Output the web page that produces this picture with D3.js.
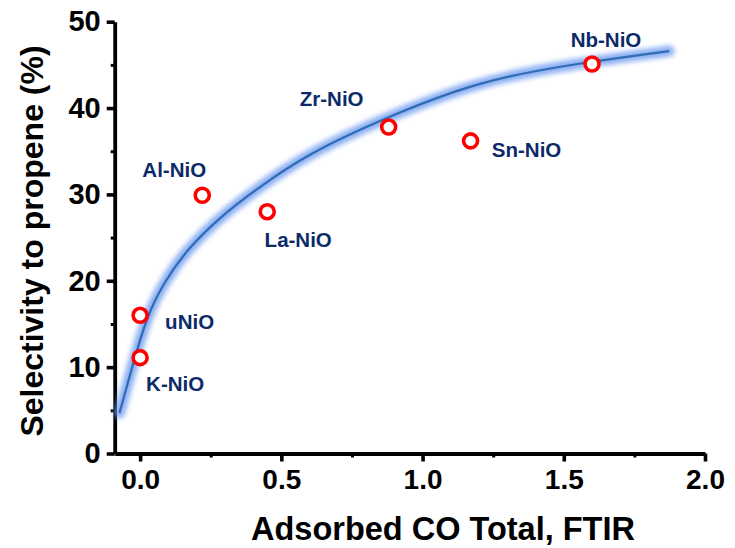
<!DOCTYPE html>
<html>
<head>
<meta charset="utf-8">
<script src="https://cdn.jsdelivr.net/npm/d3@7"></script>
<style>
  body { margin: 0; background: #fff; }
  svg { display: block; font-family: Arial, "Liberation Sans", Helvetica, sans-serif; }
</style>
</head>
<body>
<svg id="chart" width="735" height="548"></svg>
<script>
    'use strict';

    // measured samples
    var samples = ['K-NiO', 'uNiO', 'Al-NiO', 'La-NiO', 'Zr-NiO', 'Sn-NiO', 'Nb-NiO'];
    var coTotal = [0.0, 0.0, 0.22, 0.45, 0.88, 1.17, 1.60];
    var selectivity = [11.1, 16.0, 29.9, 28.0, 37.8, 36.2, 45.1];

    // fitted trend line
    var fitX = [-0.073, -0.024, 0.024, 0.082, 0.165, 0.283, 0.424, 0.589, 0.848, 1.20, 1.555, 1.873];
    var fitY = [4.7, 10.5, 15.9, 19.7, 23.6, 27.4, 30.9, 34.6, 38.6, 43.2, 45.2, 46.6];

    var xTicks = [0, 0.5, 1.0, 1.5, 2.0];
    var xMinor = [0.25, 0.75, 1.25, 1.75];
    var yTicks = [0, 10, 20, 30, 40, 50];
    var yMinor = [5, 15, 25, 35, 45];

    // label offsets (dx, dy from point, anchor)
    var labelPos = {
        'K-NiO': [6, 33, 'start'],
        'uNiO': [25, 14, 'start'],
        'Al-NiO': [-28, -18, 'middle'],
        'La-NiO': [31, 35, 'middle'],
        'Zr-NiO': [-57, -21, 'middle'],
        'Sn-NiO': [56, 16, 'middle'],
        'Nb-NiO': [14, -17, 'middle']
    };

    var svg = d3.select('#chart');
    var x = d3.scaleLinear().domain([-0.09, 2.0]).range([114.7, 705]);
    var y = d3.scaleLinear().domain([0, 50]).range([453.5, 21.7]);

    var defs = svg.append('defs');
    defs.append('filter')
        .attr('id', 'glow')
        .attr('x', '-10%').attr('y', '-10%')
        .attr('width', '120%').attr('height', '120%')
        .append('feGaussianBlur')
        .attr('stdDeviation', 2.8);

    // axes
    function styleAxis(g, size) {
        g.selectAll('.domain').attr('stroke', '#000').attr('stroke-width', 3.8);
        g.selectAll('.tick line').attr('stroke', '#000').attr('stroke-width', 3.6);
        g.selectAll('.tick text')
            .attr('fill', '#000')
            .style('font-size', size + 'px')
            .style('font-weight', 'bold');
    }

    var xAxis = svg.append('g')
        .attr('transform', 'translate(0,' + y(0) + ')')
        .call(d3.axisBottom(x).tickValues(xTicks).tickFormat(d3.format('.1f'))
            .tickSize(8).tickSizeOuter(0).tickPadding(8));
    styleAxis(xAxis, 28);

    svg.append('g')
        .attr('transform', 'translate(0,' + y(0) + ')')
        .call(d3.axisBottom(x).tickValues(xMinor).tickFormat('').tickSize(4))
        .call(function (g) {
            g.select('.domain').remove();
            g.selectAll('.tick line').attr('stroke', '#000').attr('stroke-width', 3);
        });

    var yAxis = svg.append('g')
        .attr('transform', 'translate(' + x(-0.09) + ',0)')
        .call(d3.axisLeft(y).tickValues(yTicks).tickSize(8).tickSizeOuter(0).tickPadding(6));
    styleAxis(yAxis, 29);

    svg.append('g')
        .attr('transform', 'translate(' + x(-0.09) + ',0)')
        .call(d3.axisLeft(y).tickValues(yMinor).tickFormat('').tickSize(4))
        .call(function (g) {
            g.select('.domain').remove();
            g.selectAll('.tick line').attr('stroke', '#000').attr('stroke-width', 3);
        });

    // axis titles
    svg.append('text')
        .attr('x', 443)
        .attr('y', 540)
        .attr('text-anchor', 'middle')
        .style('font-size', '32.5px')
        .style('font-weight', 'bold')
        .text('Adsorbed CO Total, FTIR');

    svg.append('text')
        .attr('transform', 'translate(43,241) rotate(-90)')
        .attr('text-anchor', 'middle')
        .style('font-size', '32px')
        .style('font-weight', 'bold')
        .text('Selectivity to propene (%)');

    // fit line with soft blue glow
    var fit = fitX.map(function (d, i) { return [d, fitY[i]]; });
    var line = d3.line()
        .x(function (d) { return x(d[0]); })
        .y(function (d) { return y(d[1]); })
        .curve(d3.curveBasis);

    svg.append('path')
        .datum(fit)
        .attr('d', line)
        .attr('fill', 'none')
        .attr('stroke', '#6f9cf0')
        .attr('stroke-width', 11)
        .attr('stroke-linecap', 'round')
        .attr('opacity', 0.8)
        .attr('filter', 'url(#glow)');

    svg.append('path')
        .datum(fit)
        .attr('d', line)
        .attr('fill', 'none')
        .attr('stroke', '#2f6cb3')
        .attr('stroke-width', 2.2);

    // points
    var pts = samples.map(function (s, i) {
        return { name: s, x: coTotal[i], y: selectivity[i] };
    });

    svg.append('g').selectAll('circle')
        .data(pts)
        .join('circle')
        .attr('cx', function (d) { return x(d.x); })
        .attr('cy', function (d) { return y(d.y); })
        .attr('r', 7)
        .attr('fill', '#fff')
        .attr('stroke', '#ff0000')
        .attr('stroke-width', 3.6);

    svg.append('g').selectAll('text')
        .data(pts)
        .join('text')
        .attr('x', function (d) { return x(d.x) + labelPos[d.name][0]; })
        .attr('y', function (d) { return y(d.y) + labelPos[d.name][1]; })
        .attr('text-anchor', function (d) { return labelPos[d.name][2]; })
        .attr('fill', '#0b2a68')
        .style('font-size', '20.5px')
        .style('font-weight', 'bold')
        .text(function (d) { return d.name; });
</script>
</body>
</html>
